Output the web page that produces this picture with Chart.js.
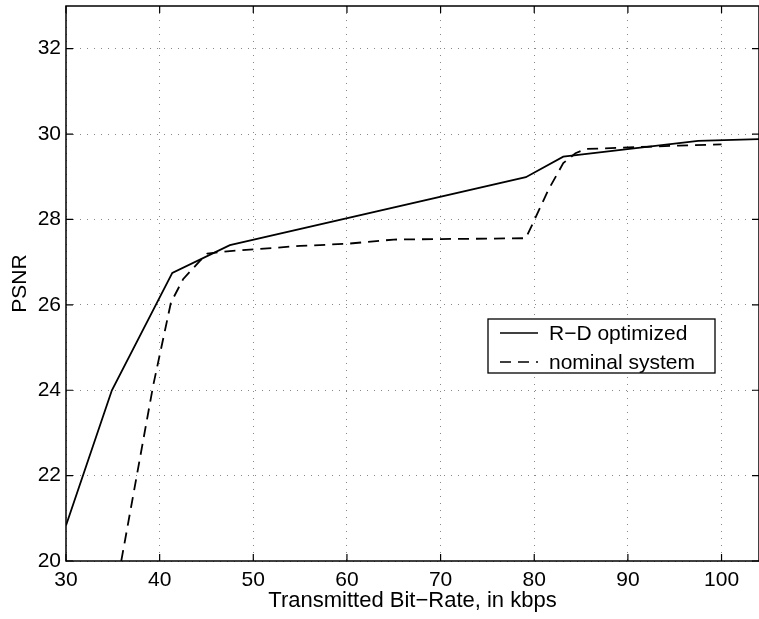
<!DOCTYPE html>
<html>
<head>
<meta charset="utf-8">
<script src="https://cdn.jsdelivr.net/npm/chart.js@4.4.1/dist/chart.umd.min.js"></script>
<style>
  body { margin: 0; background: #fff; }
  #wrap { width: 759px; height: 619px; }
</style>
</head>
<body>
<div id="wrap"><canvas id="psnrChart" width="759" height="619"></canvas></div>
<script>
// values
const rdRate = [30, 34.9, 41.35, 47.5, 79.1, 83.1, 97.5, 104];
const rdPsnr = [20.83, 24.0, 26.75, 27.4, 28.99, 29.47, 29.84, 29.88];

const nomRate = [35.9, 39.3, 41.2, 42.5, 44.3, 45.1, 47.5, 55, 60, 65, 79.1, 80.0, 81.5, 83.1, 84.4, 85.5, 95.4, 100];
const nomPsnr = [20.0, 24.1, 26.05, 26.6, 27.03, 27.2, 27.26, 27.38, 27.43, 27.53, 27.56, 27.98, 28.69, 29.32, 29.55, 29.65, 29.73, 29.76];

const xTicks = [30, 40, 50, 60, 70, 80, 90, 100];
const yTicks = [20, 22, 24, 26, 28, 30, 32];

const FONT = "'Liberation Sans', Arial, Helvetica, sans-serif";

function toPoints(xs, ys) {
    return xs.map((x, i) => ({ x: x, y: ys[i] }));
}

// MATLAB-like frame with inward tick marks and the boxed legend
const matlabFrame = {
    id: 'matlabFrame',
    afterDraw(chart) {
        const ctx = chart.ctx;
        const a = chart.chartArea;
        const xs = chart.scales.x;
        const ys = chart.scales.y;
        ctx.save();
        ctx.strokeStyle = '#000';
        ctx.lineWidth = 1.5;
        ctx.strokeRect(a.left, a.top, a.right - a.left, a.bottom - a.top);

        ctx.lineWidth = 1.2;
        ctx.beginPath();
        xTicks.forEach(v => {
            const px = xs.getPixelForValue(v);
            ctx.moveTo(px, a.bottom); ctx.lineTo(px, a.bottom - 7);
            ctx.moveTo(px, a.top); ctx.lineTo(px, a.top + 7);
        });
        yTicks.forEach(v => {
            const py = ys.getPixelForValue(v);
            ctx.moveTo(a.left, py); ctx.lineTo(a.left + 7, py);
            ctx.moveTo(a.right, py); ctx.lineTo(a.right - 7, py);
        });
        ctx.stroke();

        // legend box
        const bx = a.left + 422, by = a.top + 313, bw = 227, bh = 54;
        ctx.fillStyle = '#fff';
        ctx.fillRect(bx, by, bw, bh);
        ctx.lineWidth = 1.3;
        ctx.strokeRect(bx, by, bw, bh);
        ctx.font = '21px ' + FONT;
        ctx.textBaseline = 'middle';
        ctx.textAlign = 'left';
        chart.data.datasets.forEach((ds, i) => {
            const ry = by + 14 + i * 29;
            ctx.strokeStyle = '#000';
            ctx.lineWidth = 1.5;
            ctx.setLineDash(ds.borderDash || []);
            ctx.beginPath();
            ctx.moveTo(bx + 12, ry);
            ctx.lineTo(bx + 50, ry);
            ctx.stroke();
            ctx.setLineDash([]);
            ctx.fillStyle = '#000';
            ctx.fillText(ds.label, bx + 61, ry + 1);
        });
        ctx.restore();
    }
};

const ctx = document.getElementById('psnrChart').getContext('2d');
new Chart(ctx, {
    type: 'line',
    data: {
        datasets: [{
            label: 'R\u2212D optimized',
            data: toPoints(rdRate, rdPsnr),
            borderColor: '#000',
            borderWidth: 1.8,
            pointRadius: 0,
            tension: 0,
            fill: false
        }, {
            label: 'nominal system',
            data: toPoints(nomRate, nomPsnr),
            borderColor: '#000',
            borderWidth: 1.8,
            borderDash: [11, 7],
            pointRadius: 0,
            tension: 0,
            fill: false
        }]
    },
    options: {
        responsive: false,
        animation: false,
        layout: { padding: { top: 6, right: 0, left: 0, bottom: 0 } },
        plugins: {
            legend: { display: false },
            tooltip: { enabled: false }
        },
        scales: {
            x: {
                type: 'linear',
                min: 30,
                max: 104,
                afterBuildTicks: scale => { scale.ticks = xTicks.map(v => ({ value: v })); },
                afterFit: scale => {
                    scale.height = 58;
                    scale.paddingLeft = 0;
                    scale.paddingRight = 0;
                },
                grid: {
                    color: '#888',
                    lineWidth: 1,
                    drawTicks: false
                },
                border: { display: false, dash: [1, 6] },
                ticks: {
                    color: '#000',
                    padding: 7,
                    maxRotation: 0,
                    font: { family: FONT, size: 21 }
                },
                title: {
                    display: true,
                    text: 'Transmitted Bit\u2212Rate, in kbps',
                    color: '#000',
                    font: { family: FONT, size: 22, lineHeight: 1 },
                    padding: { top: 0, bottom: 7 }
                }
            },
            y: {
                min: 20,
                max: 33,
                afterBuildTicks: scale => { scale.ticks = yTicks.map(v => ({ value: v })); },
                afterFit: scale => {
                    scale.width = 66;
                    scale.paddingTop = 0;
                    scale.paddingBottom = 0;
                },
                grid: {
                    color: '#888',
                    lineWidth: 1,
                    drawTicks: false
                },
                border: { display: false, dash: [1, 6] },
                ticks: {
                    color: '#000',
                    padding: 5,
                    font: { family: FONT, size: 21 }
                },
                title: {
                    display: true,
                    text: 'PSNR',
                    color: '#000',
                    font: { family: FONT, size: 21, lineHeight: 1 },
                    padding: { top: 10, bottom: 0 }
                }
            }
        }
    },
    plugins: [matlabFrame]
});
</script>
</body>
</html>
